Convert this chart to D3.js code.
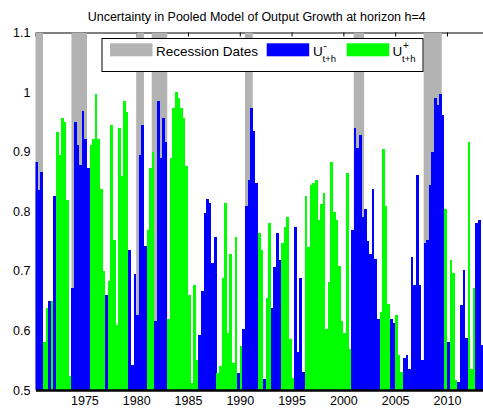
<!DOCTYPE html>
<html>
<head>
<meta charset="utf-8">
<title>Uncertainty in Pooled Model of Output Growth at horizon h=4</title>
<script src="https://d3js.org/d3.v7.min.js"></script>
<style>
  body { margin: 0; background: #fff; }
  text { font-family: "Liberation Sans", Arial, sans-serif; fill: #000; }
</style>
</head>
<body>
<script>
// quarterly series, first bar is 1970Q2
const firstQuarter = 1970.25;
const uValues = [
  .883,.835,.866,.581,.638,.649,.649,.826,.933,.894,
  .956,.950,.819,.523,.672,.950,.911,.877,.969,.922,
  .872,.911,.922,.997,.922,.838,.700,.660,.683,.945,
  .752,.609,.939,.860,.985,.967,.735,.542,.694,.626,
  .894,.945,.741,.768,.872,.900,.615,.985,.889,.956,
  .917,.620,.889,.973,1.000,.990,.974,.957,.876,.660,
  .512,.677,.551,.592,.666,.797,.820,.814,.713,.757,
  .528,.540,.688,.814,.596,.729,.546,.757,.529,.574,
  .603,.809,.853,.974,.935,.848,.763,.735,.518,.654,
  .781,.637,.707,.764,.718,.746,.774,.791,.585,.520,
  .774,.564,.688,.530,.825,.740,.844,.848,.853,.785,
  .813,.830,.603,.682,.882,.798,.785,.708,.615,.595,
  .865,.568,.768,.939,.906,.928,.791,.803,.750,.729,
  .838,.720,.620,.631,.905,.809,.644,.620,.612,.626,
  .559,.530,.553,.559,.536,.724,.676,.861,.676,.550,
  .746,.752,.844,.900,.990,.979,.996,.961,.803,.581,
  .718,.696,.517,.513,.643,.701,.587,.917,.535,.672,
  .780,.786,.575
];
// which bound each quarter belongs to: "-" = U-(t+h), "+" = U+(t+h)
const uSide = ("--- ++ - + - ++++++ ------- ++++++ - ++++++++ ------- +++ ----- " +
  "++++++++++++ ------- ++++++++ - + ------ ++ - ++ ---- +++++ ---- " +
  "++++++++++++++++++ ----------- ++++ -- +++ ---------------- + - +++ ---- +++ ---")
  .replace(/ /g, "").split("");

const recessionStart = [1969.75, 1973.75, 1980.0, 1981.5, 1990.5, 2001.0, 2007.75];
const recessionEnd   = [1971.0, 1975.25, 1980.75, 1983.0, 1991.25, 2002.0, 2009.5];

const yearTicks = [1975, 1980, 1985, 1990, 1995, 2000, 2005, 2010];
const valueTicks = [0.5, 0.6, 0.7, 0.8, 0.9, 1.0, 1.1];

const width = 483, height = 408;
const plotLeft = 35.5, plotRight = 488.4, plotTop = 32.5, plotBottom = 390;

const x = d3.scaleLinear().domain([1970.28, 2014]).range([plotLeft, plotRight]);
const y = d3.scaleLinear().domain([0.5, 1.1]).range([plotBottom, plotTop]);

const colors = { "-": "#0000ff", "+": "#00ff00" };

const svg = d3.select("body").append("svg")
  .attr("width", width)
  .attr("height", height);

svg.append("defs").append("clipPath").attr("id", "plot")
  .append("rect")
  .attr("x", plotLeft).attr("y", plotTop)
  .attr("width", plotRight - plotLeft).attr("height", plotBottom - plotTop);

// top border with inward ticks
svg.append("g")
  .attr("transform", `translate(0,${plotTop})`)
  .call(d3.axisTop(x).tickValues(yearTicks).tickSize(-4).tickFormat(""))
  .call(g => g.select(".domain").attr("stroke-width", 1.2));

const plot = svg.append("g").attr("clip-path", "url(#plot)");

// recession shading
plot.selectAll(".rec")
  .data(recessionStart)
  .join("rect")
  .attr("class", "rec")
  .attr("x", d => x(d))
  .attr("width", (d, i) => x(recessionEnd[i]) - x(d))
  .attr("y", y(1.1))
  .attr("height", y(0.5) - y(1.1))
  .attr("fill", "#b3b3b3");

// quarterly bars
plot.selectAll(".bar")
  .data(uValues)
  .join("rect")
  .attr("class", "bar")
  .attr("x", (d, i) => x(firstQuarter + i / 4))
  .attr("width", x(firstQuarter + 0.25) - x(firstQuarter) + 0.05)
  .attr("y", d => y(d))
  .attr("height", d => y(0.5) - y(d))
  .attr("fill", (d, i) => colors[uSide[i]])
  .attr("shape-rendering", "crispEdges");

// bottom axis
svg.append("g")
  .attr("transform", `translate(0,${plotBottom})`)
  .call(d3.axisBottom(x).tickValues(yearTicks).tickSize(0).tickPadding(6.5).tickFormat(d3.format("d")))
  .call(g => g.select(".domain").attr("stroke-width", 2.4))
  .call(g => g.selectAll("text").attr("font-size", 12.5).attr("font-family", null));

// left labels
svg.append("g")
  .attr("transform", `translate(${plotLeft},0)`)
  .call(d3.axisLeft(y).tickValues(valueTicks).tickSize(0).tickPadding(5)
    .tickFormat(d => String(+d.toFixed(1))))
  .call(g => g.select(".domain").remove())
  .call(g => g.selectAll("text").attr("font-size", 12.5).attr("font-family", null));

// title
svg.append("text")
  .attr("x", 256.7)
  .attr("y", 21)
  .attr("text-anchor", "middle")
  .attr("font-size", 12.5)
  .text("Uncertainty in Pooled Model of Output Growth at horizon h=4");

// legend
const legend = svg.append("g");
legend.append("rect")
  .attr("x", 102).attr("y", 38.5)
  .attr("width", 321).attr("height", 33)
  .attr("fill", "#fff").attr("stroke", "#000").attr("stroke-width", 1);

const swatches = [
  { x: 110, color: "#b3b3b3" },
  { x: 266.7, color: colors["-"] },
  { x: 346.7, color: colors["+"] }
];
legend.selectAll(".sw")
  .data(swatches)
  .join("rect")
  .attr("class", "sw")
  .attr("x", d => d.x).attr("y", 43.3)
  .attr("width", 42.5).attr("height", 13)
  .attr("fill", d => d.color);

legend.append("text")
  .attr("x", 156).attr("y", 55.5)
  .attr("font-size", 13.5)
  .text("Recession Dates");

const uLabels = [
  { x: 313, sup: "-" },
  { x: 392.5, sup: "+" }
];
uLabels.forEach(d => {
  legend.append("text").attr("x", d.x).attr("y", 55.5).attr("font-size", 13.5).text("U");
  legend.append("text").attr("x", d.x + 10.5).attr("y", 48.5).attr("font-size", 10).text(d.sup);
  legend.append("text").attr("x", d.x + 9.5).attr("y", 61.5).attr("font-size", 9.5).text("t+h");
});
</script>
</body>
</html>
